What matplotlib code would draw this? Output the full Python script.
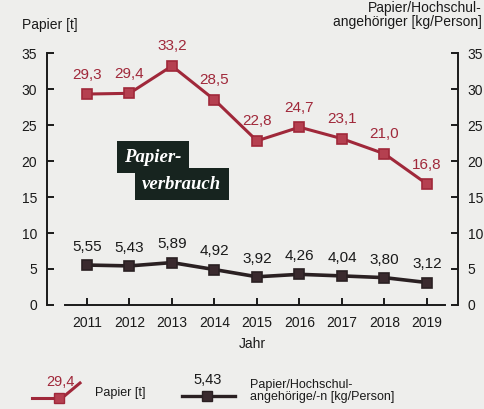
import matplotlib
matplotlib.use("Agg")
import matplotlib.pyplot as plt
from matplotlib.lines import Line2D

years = [2011, 2012, 2013, 2014, 2015, 2016, 2017, 2018, 2019]
papier_t = [29.3, 29.4, 33.2, 28.5, 22.8, 24.7, 23.1, 21.0, 16.8]
papier_kg = [5.55, 5.43, 5.89, 4.92, 3.92, 4.26, 4.04, 3.80, 3.12]
yticks = [0, 5, 10, 15, 20, 25, 30, 35]

RED = "#a0283a"
RED_FILL = "#b54050"
DARK = "#2a2022"
BG = "#eeeeec"

plt.rcParams['font.family'] = ['Liberation Sans', 'DejaVu Sans']

fig = plt.figure(figsize=(4.84, 4.09), dpi=100, facecolor=BG)
ax = fig.add_axes([47/484, 1-305/409, (458-47)/484, (305-53)/409])
ax.set_facecolor(BG)
ax.set_xlim(2010.06, 2019.73)
ax.set_ylim(0, 35)

ax.plot(years, papier_t, color=RED, lw=2.2, marker='s', ms=7.5,
        mfc=RED_FILL, mec=RED, mew=1.2, zorder=3)
ax.plot(years, papier_kg, color=DARK, lw=2.6, marker='s', ms=7.5,
        mfc="#3a2a2e", mec=DARK, mew=1.2, zorder=3)

def fmt(v, nd):
    return f"{v:.{nd}f}".replace('.', ',')

for x, v in zip(years, papier_t):
    ax.annotate(fmt(v, 1), (x, v), xytext=(0, 9), textcoords='offset points',
                ha='center', va='bottom', fontsize=11, color=RED)
for x, v in zip(years, papier_kg):
    ax.annotate(fmt(v, 2), (x, v), xytext=(0, 8), textcoords='offset points',
                ha='center', va='bottom', fontsize=11, color='#1a1a1a')

ax.spines['top'].set_visible(False)
for s in ['left', 'right', 'bottom']:
    ax.spines[s].set_color('#1a1a1a')
    ax.spines[s].set_linewidth(1.4)
ax.spines['bottom'].set_bounds(2010.48, 2019.42)

ax.set_yticks(yticks)
ax.set_xticks(years)
ax.set_xticklabels([str(y) for y in years])
ax.tick_params(axis='y', direction='in', length=5, width=1.4, labelsize=10,
               colors='#1a1a1a', pad=7, left=True, right=True,
               labelleft=True, labelright=True)
ax.tick_params(axis='x', direction='in', length=5, width=1.4, labelsize=10,
               colors='#1a1a1a', pad=8)

ax.set_xlabel('Jahr', fontsize=10, color='#1a1a1a', labelpad=5)

fig.text(22/484, 1-25/409, 'Papier [t]', fontsize=10, color='#1a1a1a',
         ha='left', va='center')
fig.text(482/484, 1-15/409, 'Papier/Hochschul-\nangehöriger [kg/Person]',
         fontsize=10, color='#1a1a1a', ha='right', va='center',
         linespacing=1.0)

# Papierverbrauch label
boxkw = dict(boxstyle='square,pad=0.4', fc='#17241f', ec='none')
ax.text(0.258, 0.587, 'Papier-', transform=ax.transAxes, fontsize=13.5,
        family='Liberation Serif', style='italic', weight='bold',
        color='white', ha='center', va='center', bbox=boxkw)
ax.text(0.328, 0.48, 'verbrauch', transform=ax.transAxes, fontsize=13.5,
        family='Liberation Serif', style='italic', weight='bold',
        color='white', ha='center', va='center', bbox=boxkw)

# legend (coordinates in pixels from figure bottom)
H = 0.1 * 409
lax = fig.add_axes([0, 0, 1, 0.1])
lax.set_xlim(0, 484)
lax.set_ylim(0, H)
lax.axis('off')
lax.add_line(Line2D([32, 56], [409-398, 409-398], color=RED, lw=2.2))
lax.add_line(Line2D([62, 80], [409-398, 409-383], color=RED, lw=2.2))
lax.plot([59], [409-398], marker='s', ms=7, mfc=RED_FILL, mec=RED, color=RED)
lax.text(60, 409-382, fmt(papier_t[1], 1), color=RED, fontsize=10.5,
         ha='center', va='center')
lax.text(95, 409-393, 'Papier [t]', fontsize=9, color='#1a1a1a', va='center')
lax.add_line(Line2D([182, 235], [409-396, 409-396], color=DARK, lw=2.4))
lax.plot([207], [409-396], marker='s', ms=7, mfc="#3a2a2e", mec=DARK)
lax.text(208, 409-380, fmt(papier_kg[1], 2), color='#1a1a1a', fontsize=10.5,
         ha='center', va='center')
lax.text(250, 409-391, 'Papier/Hochschul-\nangehörige/-n [kg/Person]',
         fontsize=9, color='#1a1a1a', va='center', linespacing=1.0)

fig.savefig('out.png', dpi=100, facecolor=BG)
